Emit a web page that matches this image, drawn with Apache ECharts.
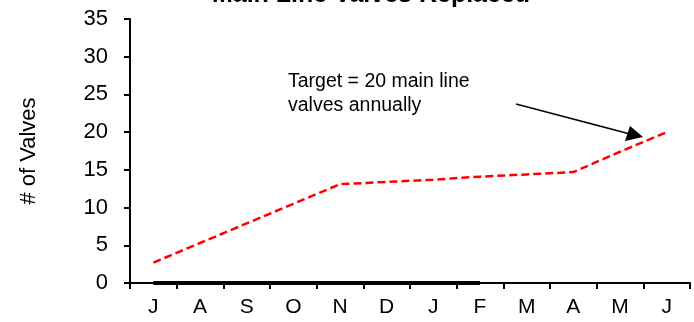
<!DOCTYPE html>
<html>
<head>
<meta charset="utf-8">
<script src="https://cdn.jsdelivr.net/npm/echarts@6/dist/echarts.min.js"></script>
<style>
  html, body { margin: 0; padding: 0; background: #fff; }
  #chart { width: 694px; height: 322px; }
</style>
</head>
<body>
<div id="chart"></div>
<script>
// Months of the fiscal year, July through June
const months = ['J', 'A', 'S', 'O', 'N', 'D', 'J', 'F', 'M', 'A', 'M', 'J'];
// Cumulative target path toward 20 valves for the year
const targetValves = [2.7, 5.3, 7.9, 10.5, 13.1, 13.4, 13.7, 14.1, 14.4, 14.7, 17.4, 20.0];
// Valves actually replaced so far (July through February)
const replacedValves = [0, 0, 0, 0, 0, 0, 0, 0, null, null, null, null];
// Value axis ticks
const yTicks = [0, 5, 10, 15, 20, 25, 30, 35];

const FONT = '"Liberation Sans", Arial, sans-serif';

const chart = echarts.init(document.getElementById('chart'), null, { renderer: 'canvas' });

chart.setOption({
  animation: false,
  backgroundColor: '#ffffff',
  title: {
    text: 'Main Line Valves Replaced',
    left: 366,
    textAlign: 'center',
    top: -22,
    textStyle: { fontFamily: FONT, fontSize: 25, fontWeight: 'bold', color: '#000' }
  },
  grid: { left: 130, right: 4, top: 19, bottom: 39, containLabel: false },
  xAxis: {
    type: 'category',
    data: months,
    boundaryGap: true,
    axisLine: { lineStyle: { color: '#000', width: 2 } },
    axisTick: { show: true, length: 6, lineStyle: { color: '#000', width: 2 } },
    axisLabel: { fontFamily: FONT, fontSize: 21, color: '#000', margin: 14, interval: 0 },
    splitLine: { show: false }
  },
  yAxis: {
    type: 'value',
    min: yTicks[0],
    max: yTicks[yTicks.length - 1],
    interval: 5,
    name: '# of Valves',
    nameLocation: 'middle',
    nameRotate: 90,
    nameGap: 90,
    nameTextStyle: { fontFamily: FONT, fontSize: 22, color: '#000' },
    axisLine: { show: true, lineStyle: { color: '#000', width: 2 } },
    axisTick: { show: true, length: 6, lineStyle: { color: '#000', width: 2 } },
    axisLabel: { fontFamily: FONT, fontSize: 22, color: '#000', margin: 22 },
    splitLine: { show: false }
  },
  series: [
    {
      name: 'Target',
      type: 'line',
      data: targetValves,
      symbol: 'none',
      smooth: false,
      lineStyle: { color: '#ff0000', width: 2.5, type: [8, 4] },
      z: 3
    },
    {
      name: 'Replaced',
      type: 'line',
      data: replacedValves,
      symbol: 'none',
      lineStyle: { color: '#000000', width: 4 },
      z: 4
    }
  ],
  graphic: [
    {
      type: 'text',
      left: 288,
      top: 70,
      style: {
        text: 'Target = 20 main line\nvalves annually',
        font: '19.5px ' + FONT,
        fill: '#000',
        lineHeight: 24
      }
    },
    {
      type: 'line',
      shape: { x1: 516, y1: 104, x2: 630, y2: 134 },
      style: { stroke: '#000', lineWidth: 1.5 }
    },
    {
      type: 'polygon',
      shape: { points: [[643, 137], [625, 141], [630, 126]] },
      style: { fill: '#000' }
    }
  ]
});
</script>
</body>
</html>
